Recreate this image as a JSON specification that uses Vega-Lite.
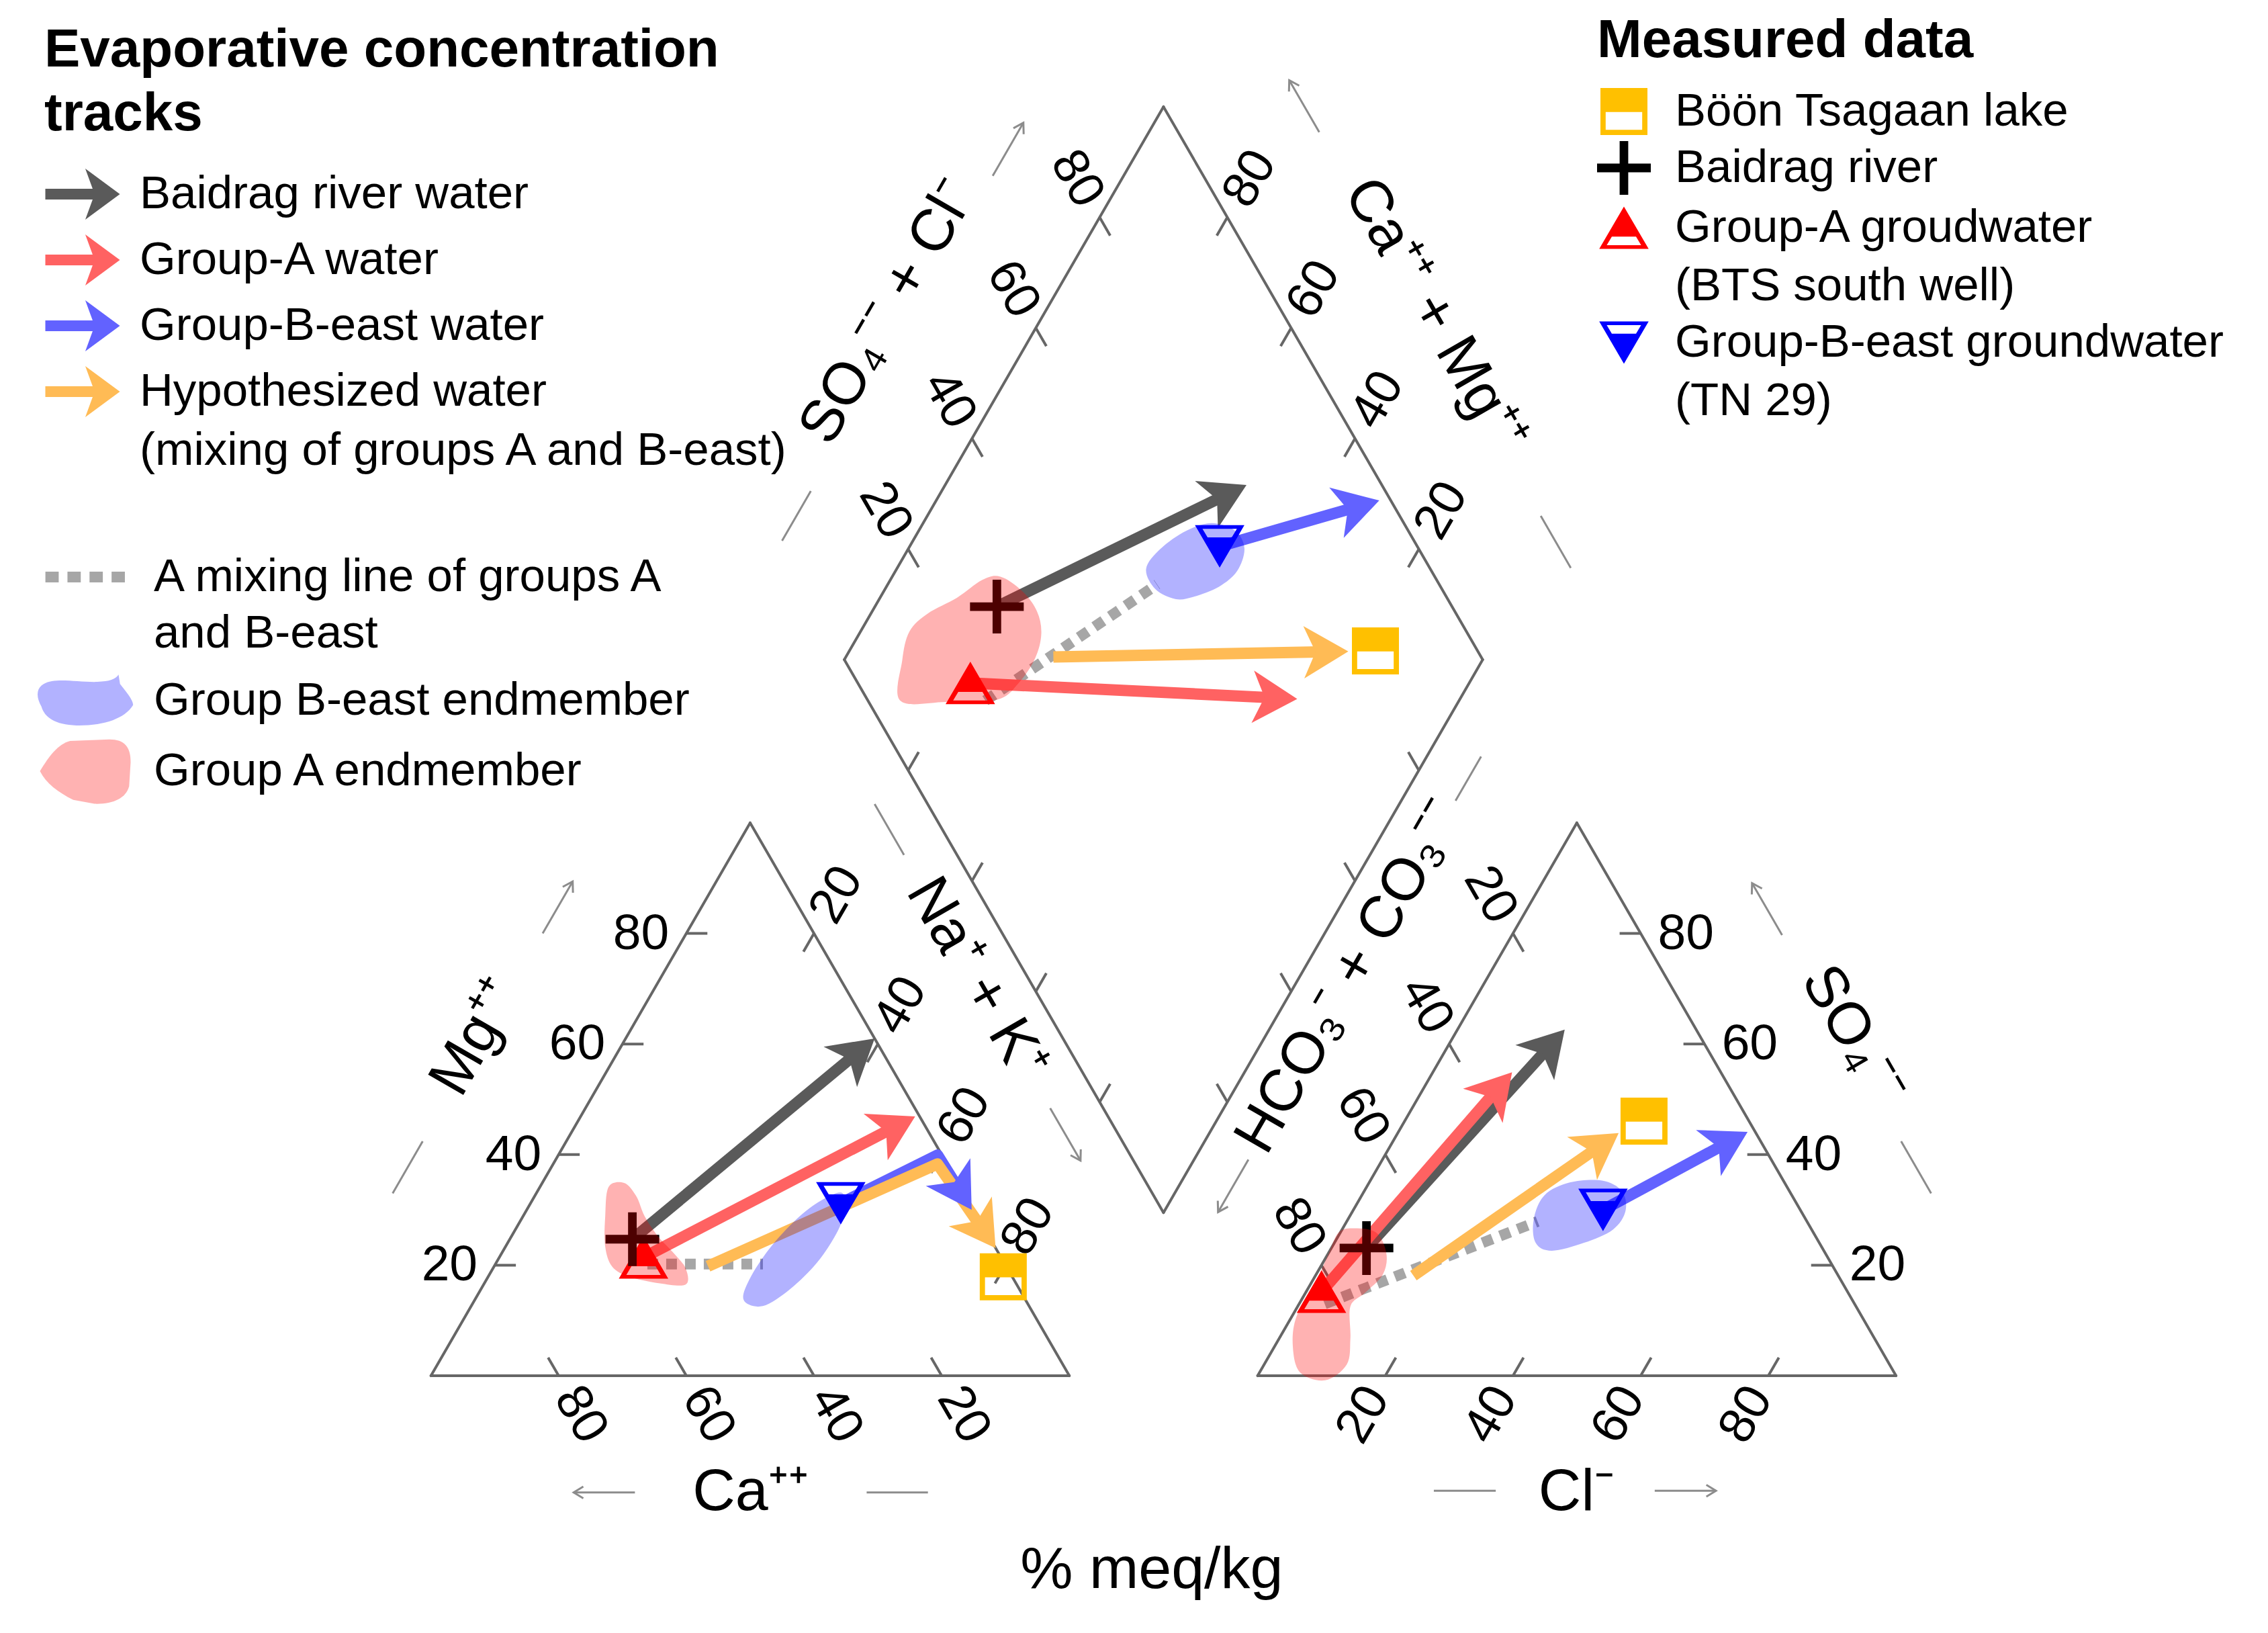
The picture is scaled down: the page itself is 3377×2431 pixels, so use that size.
{
"$schema": "https://vega.github.io/schema/vega-lite/v6.json",
"width": 3377, "height": 2431,
"autosize": {"type": "none"}, "padding": 0, "background": "white",
"config": {"view": {"stroke": null}, "font": "Liberation Sans"},
"data": {"values": [
{"k":"fr","p":"cat","a":100,"b":0,"a2":0,"b2":0},
{"k":"fr","p":"cat","a":100,"b":0,"a2":0,"b2":100},
{"k":"fr","p":"cat","a":0,"b":0,"a2":0,"b2":100},
{"k":"fr","p":"an","a":0,"b":0,"a2":100,"b2":0},
{"k":"fr","p":"an","a":0,"b":0,"a2":0,"b2":100},
{"k":"fr","p":"an","a":100,"b":0,"a2":0,"b2":100},
{"k":"fr","p":"dia","a":0,"b":0,"a2":100,"b2":0},
{"k":"fr","p":"dia","a":100,"b":0,"a2":100,"b2":100},
{"k":"fr","p":"dia","a":100,"b":100,"a2":0,"b2":100},
{"k":"fr","p":"dia","a":0,"b":100,"a2":0,"b2":0},
{"k":"tk","p":"cat","a":80,"b":20,"a2":76.7,"b2":20},
{"k":"tk","p":"cat","a":60,"b":40,"a2":56.7,"b2":40},
{"k":"tk","p":"cat","a":40,"b":60,"a2":36.7,"b2":60},
{"k":"tk","p":"cat","a":20,"b":80,"a2":16.7,"b2":80},
{"k":"tk","p":"cat","a":20,"b":0,"a2":20,"b2":3.3},
{"k":"tk","p":"cat","a":40,"b":0,"a2":40,"b2":3.3},
{"k":"tk","p":"cat","a":60,"b":0,"a2":60,"b2":3.3},
{"k":"tk","p":"cat","a":80,"b":0,"a2":80,"b2":3.3},
{"k":"tk","p":"cat","a":0,"b":80,"a2":3.3,"b2":76.7},
{"k":"tk","p":"cat","a":0,"b":60,"a2":3.3,"b2":56.7},
{"k":"tk","p":"cat","a":0,"b":40,"a2":3.3,"b2":36.7},
{"k":"tk","p":"cat","a":0,"b":20,"a2":3.3,"b2":16.7},
{"k":"tk","p":"an","a":20,"b":0,"a2":20,"b2":3.3},
{"k":"tk","p":"an","a":40,"b":0,"a2":40,"b2":3.3},
{"k":"tk","p":"an","a":60,"b":0,"a2":60,"b2":3.3},
{"k":"tk","p":"an","a":80,"b":0,"a2":80,"b2":3.3},
{"k":"tk","p":"an","a":80,"b":20,"a2":76.7,"b2":20},
{"k":"tk","p":"an","a":60,"b":40,"a2":56.7,"b2":40},
{"k":"tk","p":"an","a":40,"b":60,"a2":36.7,"b2":60},
{"k":"tk","p":"an","a":20,"b":80,"a2":16.7,"b2":80},
{"k":"tk","p":"an","a":0,"b":80,"a2":3.3,"b2":76.7},
{"k":"tk","p":"an","a":0,"b":60,"a2":3.3,"b2":56.7},
{"k":"tk","p":"an","a":0,"b":40,"a2":3.3,"b2":36.7},
{"k":"tk","p":"an","a":0,"b":20,"a2":3.3,"b2":16.7},
{"k":"tk","p":"dia","a":100,"b":20,"a2":96.7,"b2":20},
{"k":"tk","p":"dia","a":100,"b":40,"a2":96.7,"b2":40},
{"k":"tk","p":"dia","a":100,"b":60,"a2":96.7,"b2":60},
{"k":"tk","p":"dia","a":100,"b":80,"a2":96.7,"b2":80},
{"k":"tk","p":"dia","a":20,"b":100,"a2":20,"b2":96.7},
{"k":"tk","p":"dia","a":40,"b":100,"a2":40,"b2":96.7},
{"k":"tk","p":"dia","a":60,"b":100,"a2":60,"b2":96.7},
{"k":"tk","p":"dia","a":80,"b":100,"a2":80,"b2":96.7},
{"k":"tk","p":"dia","a":20,"b":0,"a2":20,"b2":3.3},
{"k":"tk","p":"dia","a":40,"b":0,"a2":40,"b2":3.3},
{"k":"tk","p":"dia","a":60,"b":0,"a2":60,"b2":3.3},
{"k":"tk","p":"dia","a":80,"b":0,"a2":80,"b2":3.3},
{"k":"tk","p":"dia","a":0,"b":20,"a2":3.3,"b2":20},
{"k":"tk","p":"dia","a":0,"b":40,"a2":3.3,"b2":40},
{"k":"tk","p":"dia","a":0,"b":60,"a2":3.3,"b2":60},
{"k":"tk","p":"dia","a":0,"b":80,"a2":3.3,"b2":80},
{"k":"lr","p":"cat","a":82.7,"b":20,"t":"20"},
{"k":"lr","p":"cat","a":62.7,"b":40,"t":"40"},
{"k":"lr","p":"cat","a":42.7,"b":60,"t":"60"},
{"k":"lr","p":"cat","a":22.7,"b":80,"t":"80"},
{"k":"ll","p":"an","a":82.7,"b":20,"t":"20"},
{"k":"ll","p":"an","a":62.7,"b":40,"t":"40"},
{"k":"ll","p":"an","a":42.7,"b":60,"t":"60"},
{"k":"ll","p":"an","a":22.7,"b":80,"t":"80"},
{"k":"r60","p":"cat","a":20,"b":-7,"t":"20"},
{"k":"r60","p":"cat","a":40,"b":-7,"t":"40"},
{"k":"r60","p":"cat","a":60,"b":-7,"t":"60"},
{"k":"r60","p":"cat","a":80,"b":-7,"t":"80"},
{"k":"r60","p":"dia","a":107,"b":20,"t":"20"},
{"k":"r60","p":"dia","a":107,"b":40,"t":"40"},
{"k":"r60","p":"dia","a":107,"b":60,"t":"60"},
{"k":"r60","p":"dia","a":107,"b":80,"t":"80"},
{"k":"r60","p":"an","a":-7,"b":87,"t":"20"},
{"k":"r60","p":"an","a":-7,"b":67,"t":"40"},
{"k":"r60","p":"an","a":-7,"b":47,"t":"60"},
{"k":"r60","p":"an","a":-7,"b":27,"t":"80"},
{"k":"rm60","p":"cat","a":-7,"b":87,"t":"20"},
{"k":"rm60","p":"cat","a":-7,"b":67,"t":"40"},
{"k":"rm60","p":"cat","a":-7,"b":47,"t":"60"},
{"k":"rm60","p":"cat","a":-7,"b":27,"t":"80"},
{"k":"rm60","p":"dia","a":20,"b":107,"t":"20"},
{"k":"rm60","p":"dia","a":40,"b":107,"t":"40"},
{"k":"rm60","p":"dia","a":60,"b":107,"t":"60"},
{"k":"rm60","p":"dia","a":80,"b":107,"t":"80"},
{"k":"rm60","p":"an","a":20,"b":-7,"t":"20"},
{"k":"rm60","p":"an","a":40,"b":-7,"t":"40"},
{"k":"rm60","p":"an","a":60,"b":-7,"t":"60"},
{"k":"rm60","p":"an","a":80,"b":-7,"t":"80"},
{"k":"t0","p":"cat","a":60.5,"b":-21.1,"t":"Ca⁺⁺"},
{"k":"t0","p":"an","a":60.5,"b":-21.1,"t":"Cl⁻"},
{"k":"t0","p":"cat","a":4.7,"b":-35.2,"t":"% meq/kg"},
{"k":"t60","p":"cat","a":-21.3,"b":71.7,"t":"Na⁺ + K⁺"},
{"k":"t60","p":"dia","a":38.6,"b":123.6,"t":"Ca⁺⁺ + Mg⁺⁺"},
{"k":"t60","p":"an","a":62.5,"b":61.5,"t":"SO₄⁻⁻"},
{"k":"tm60","p":"cat","a":62.3,"b":61.2,"t":"Mg⁺⁺"},
{"k":"tm60","p":"dia","a":124.5,"b":38.4,"t":"SO₄⁻⁻ + Cl⁻"},
{"k":"tm60","p":"an","a":-21.6,"b":72.2,"t":"HCO₃⁻ + CO₃⁻⁻"},
{"k":"ind","p":"cat","a":89.5,"b":33,"a2":80.1,"b2":42.4},
{"k":"arr","p":"cat","a":42.5,"b":80,"a2":33.1,"b2":89.4},
{"k":"ind","p":"cat","a":42.3,"b":-21.1,"a2":32.7,"b2":-21.1},
{"k":"arr","p":"cat","a":78.6,"b":-21.1,"a2":88.2,"b2":-21.1},
{"k":"ind","p":"cat","a":-21.2,"b":103.4,"a2":-21.2,"b2":94.2},
{"k":"arr","p":"cat","a":-21.2,"b":48.4,"a2":-21.2,"b2":38.9},
{"k":"ind","p":"dia","a":120.5,"b":1,"a2":120.5,"b2":10},
{"k":"arr","p":"dia","a":120.5,"b":67,"a2":120.5,"b2":76.6},
{"k":"ind","p":"dia","a":-5.5,"b":122.1,"a2":3.9,"b2":122.1},
{"k":"arr","p":"dia","a":73.3,"b":122.1,"a2":82.7,"b2":122.1},
{"k":"ind","p":"an","a":-21,"b":104,"a2":-21,"b2":112},
{"k":"arr","p":"an","a":-21,"b":39.1,"a2":-21,"b2":29.6},
{"k":"ind","p":"an","a":38,"b":-20.8,"a2":47.7,"b2":-20.8},
{"k":"arr","p":"an","a":72.6,"b":-20.8,"a2":82.2,"b2":-20.8},
{"k":"ind","p":"an","a":79.6,"b":42.4,"a2":89,"b2":33},
{"k":"arr","p":"an","a":42.3,"b":79.7,"a2":32.9,"b2":89.1},
{"k":"mix","id":"cat","o":0,"p":"cat","a":56,"b":20.2},
{"k":"mix","id":"cat","o":1,"p":"cat","a":37.9,"b":20.2},
{"k":"mix","id":"dia","o":0,"p":"dia","a":74.2,"b":18.4},
{"k":"mix","id":"dia","o":1,"p":"dia","a":57.8,"b":55.8},
{"k":"mix","id":"an","o":0,"p":"an","a":4,"b":13},
{"k":"mix","id":"an","o":1,"p":"an","a":29.9,"b":27.9},
{"k":"trk","s":"Baidrag river water","id":"cat-g","o":0,"p":"cat","a":56.1,"b":24.7},
{"k":"trk","s":"Baidrag river water","id":"cat-g","o":1,"p":"cat","a":0,"b":61},
{"k":"trk","s":"Group-A water","id":"cat-r","o":0,"p":"cat","a":56,"b":21.4},
{"k":"trk","s":"Group-A water","id":"cat-r","o":1,"p":"cat","a":0.7,"b":46.9},
{"k":"trk","s":"Group-B-east water","id":"cat-b","o":0,"p":"cat","a":20.2,"b":31.2},
{"k":"trk","s":"Group-B-east water","id":"cat-b","o":1,"p":"cat","a":0.7,"b":39.9},
{"k":"trk","s":"Group-B-east water","id":"cat-b","o":2,"p":"cat","a":0.3,"b":30},
{"k":"trk","s":"Hypothesized water (mixing of groups A and B-east)","id":"cat-o","o":0,"p":"cat","a":46.7,"b":19.8},
{"k":"trk","s":"Hypothesized water (mixing of groups A and B-east)","id":"cat-o","o":1,"p":"cat","a":1.5,"b":38.3},
{"k":"trk","s":"Hypothesized water (mixing of groups A and B-east)","id":"cat-o","o":2,"p":"cat","a":0,"b":23.1},
{"k":"trk","s":"Baidrag river water","id":"dia-g","o":0,"p":"dia","a":80.9,"b":28.7},
{"k":"trk","s":"Baidrag river water","id":"dia-g","o":1,"p":"dia","a":52.8,"b":78.8},
{"k":"trk","s":"Group-A water","id":"dia-r","o":0,"p":"dia","a":78.15,"b":17.64},
{"k":"trk","s":"Group-A water","id":"dia-r","o":1,"p":"dia","a":25.5,"b":67.4},
{"k":"trk","s":"Group-B-east water","id":"dia-b","o":0,"p":"dia","a":51.45,"b":69.05},
{"k":"trk","s":"Group-B-east water","id":"dia-b","o":1,"p":"dia","a":30.6,"b":98.2},
{"k":"trk","s":"Hypothesized water (mixing of groups A and B-east)","id":"dia-o","o":0,"p":"dia","a":67.5,"b":33},
{"k":"trk","s":"Hypothesized water (mixing of groups A and B-east)","id":"dia-o","o":1,"p":"dia","a":21.8,"b":79.7},
{"k":"trk","s":"Baidrag river water","id":"an-g","o":0,"p":"an","a":5.5,"b":23.1},
{"k":"trk","s":"Baidrag river water","id":"an-g","o":1,"p":"an","a":16.8,"b":62.6},
{"k":"trk","s":"Group-A water","id":"an-r","o":0,"p":"an","a":2.4,"b":15.2},
{"k":"trk","s":"Group-A water","id":"an-r","o":1,"p":"an","a":12.4,"b":54.9},
{"k":"trk","s":"Group-B-east water","id":"an-b","o":0,"p":"an","a":39.1,"b":30},
{"k":"trk","s":"Group-B-east water","id":"an-b","o":1,"p":"an","a":54.7,"b":44.1},
{"k":"trk","s":"Hypothesized water (mixing of groups A and B-east)","id":"an-o","o":0,"p":"an","a":15.35,"b":18.1},
{"k":"trk","s":"Hypothesized water (mixing of groups A and B-east)","id":"an-o","o":1,"p":"an","a":34.6,"b":43.9},
{"k":"mk","s":"Böön Tsagaan lake","p":"cat","a":1.4,"b":17.9},
{"k":"mk","s":"Böön Tsagaan lake","p":"dia","a":17.6,"b":84},
{"k":"mk","s":"Böön Tsagaan lake","p":"an","a":37.5,"b":46.05},
{"k":"mk","s":"Group-B-east groundwater (TN 29)","p":"cat","a":20.2,"b":31.2},
{"k":"mk","s":"Group-B-east groundwater (TN 29)","p":"dia","a":51.45,"b":69.05},
{"k":"mk","s":"Group-B-east groundwater (TN 29)","p":"an","a":39.1,"b":30},
{"k":"mk","s":"Group-A groudwater (BTS south well)","p":"cat","a":56,"b":21.4},
{"k":"mk","s":"Group-A groudwater (BTS south well)","p":"dia","a":78.15,"b":17.64},
{"k":"mk","s":"Group-A groudwater (BTS south well)","p":"an","a":2.4,"b":15.2},
{"k":"mk","s":"Baidrag river","p":"cat","a":56.1,"b":24.7},
{"k":"mk","s":"Baidrag river","p":"dia","a":80.9,"b":28.7},
{"k":"mk","s":"Baidrag river","p":"an","a":5.5,"b":23.1},
{"k":"bl","s":"Group A endmember","id":"cat-A","o":0,"p":"cat","a":55.1,"b":34.15},
{"k":"bl","s":"Group A endmember","id":"cat-A","o":1,"p":"cat","a":52.3,"b":34.88},
{"k":"bl","s":"Group A endmember","id":"cat-A","o":2,"p":"cat","a":51.6,"b":32.5},
{"k":"bl","s":"Group A endmember","id":"cat-A","o":3,"p":"cat","a":52.1,"b":28.81},
{"k":"bl","s":"Group A endmember","id":"cat-A","o":4,"p":"cat","a":51.8,"b":25.12},
{"k":"bl","s":"Group A endmember","id":"cat-A","o":5,"p":"cat","a":50.9,"b":22.24},
{"k":"bl","s":"Group A endmember","id":"cat-A","o":6,"p":"cat","a":50.4,"b":19.38},
{"k":"bl","s":"Group A endmember","id":"cat-A","o":7,"p":"cat","a":51.85,"b":16.5},
{"k":"bl","s":"Group A endmember","id":"cat-A","o":8,"p":"cat","a":55.8,"b":16.71},
{"k":"bl","s":"Group A endmember","id":"cat-A","o":9,"p":"cat","a":60,"b":17.93},
{"k":"bl","s":"Group A endmember","id":"cat-A","o":10,"p":"cat","a":61.75,"b":19.78},
{"k":"bl","s":"Group A endmember","id":"cat-A","o":11,"p":"cat","a":60.98,"b":23.48},
{"k":"bl","s":"Group A endmember","id":"cat-A","o":12,"p":"cat","a":58.3,"b":28.81},
{"k":"bl","s":"Group B-east endmember","id":"cat-B","o":0,"p":"cat","a":44.17,"b":13.63},
{"k":"bl","s":"Group B-east endmember","id":"cat-B","o":1,"p":"cat","a":41.5,"b":17.32},
{"k":"bl","s":"Group B-east endmember","id":"cat-B","o":2,"p":"cat","a":35.4,"b":23.06},
{"k":"bl","s":"Group B-east endmember","id":"cat-B","o":3,"p":"cat","a":28.46,"b":28.4},
{"k":"bl","s":"Group B-east endmember","id":"cat-B","o":4,"p":"cat","a":23.06,"b":31.69},
{"k":"bl","s":"Group B-east endmember","id":"cat-B","o":5,"p":"cat","a":19.12,"b":33.12},
{"k":"bl","s":"Group B-east endmember","id":"cat-B","o":6,"p":"cat","a":19.92,"b":30.45},
{"k":"bl","s":"Group B-east endmember","id":"cat-B","o":7,"p":"cat","a":23.03,"b":26.35},
{"k":"bl","s":"Group B-east endmember","id":"cat-B","o":8,"p":"cat","a":29.13,"b":20.6},
{"k":"bl","s":"Group B-east endmember","id":"cat-B","o":9,"p":"cat","a":35.89,"b":15.68},
{"k":"bl","s":"Group B-east endmember","id":"cat-B","o":10,"p":"cat","a":41.72,"b":12.6},
{"k":"bl","s":"Group A endmember","id":"dia-A","o":0,"p":"dia","a":87.49,"b":5.07},
{"k":"bl","s":"Group A endmember","id":"dia-A","o":1,"p":"dia","a":90.85,"b":8.99},
{"k":"bl","s":"Group A endmember","id":"dia-A","o":2,"p":"dia","a":92.34,"b":12.76},
{"k":"bl","s":"Group A endmember","id":"dia-A","o":3,"p":"dia","a":91.11,"b":17.23},
{"k":"bl","s":"Group A endmember","id":"dia-A","o":4,"p":"dia","a":87.96,"b":23.22},
{"k":"bl","s":"Group A endmember","id":"dia-A","o":5,"p":"dia","a":85.59,"b":28.83},
{"k":"bl","s":"Group A endmember","id":"dia-A","o":6,"p":"dia","a":83.04,"b":31.98},
{"k":"bl","s":"Group A endmember","id":"dia-A","o":7,"p":"dia","a":78.3,"b":34.08},
{"k":"bl","s":"Group A endmember","id":"dia-A","o":8,"p":"dia","a":74.2,"b":34.55},
{"k":"bl","s":"Group A endmember","id":"dia-A","o":9,"p":"dia","a":71.49,"b":33.21},
{"k":"bl","s":"Group A endmember","id":"dia-A","o":10,"p":"dia","a":70.23,"b":30.01},
{"k":"bl","s":"Group A endmember","id":"dia-A","o":11,"p":"dia","a":70.58,"b":25.22},
{"k":"bl","s":"Group A endmember","id":"dia-A","o":12,"p":"dia","a":72.48,"b":20.28},
{"k":"bl","s":"Group A endmember","id":"dia-A","o":13,"p":"dia","a":80.25,"b":12.09},
{"k":"bl","s":"Group B-east endmember","id":"dia-B","o":0,"p":"dia","a":60.94,"b":55.5},
{"k":"bl","s":"Group B-east endmember","id":"dia-B","o":1,"p":"dia","a":60.48,"b":59.6},
{"k":"bl","s":"Group B-east endmember","id":"dia-B","o":2,"p":"dia","a":58.1,"b":65.2},
{"k":"bl","s":"Group B-east endmember","id":"dia-B","o":3,"p":"dia","a":54.8,"b":69.9},
{"k":"bl","s":"Group B-east endmember","id":"dia-B","o":4,"p":"dia","a":50.4,"b":72.9},
{"k":"bl","s":"Group B-east endmember","id":"dia-B","o":5,"p":"dia","a":47.36,"b":72.72},
{"k":"bl","s":"Group B-east endmember","id":"dia-B","o":6,"p":"dia","a":46.48,"b":69.56},
{"k":"bl","s":"Group B-east endmember","id":"dia-B","o":7,"p":"dia","a":47.91,"b":65.29},
{"k":"bl","s":"Group B-east endmember","id":"dia-B","o":8,"p":"dia","a":50.99,"b":60.39},
{"k":"bl","s":"Group B-east endmember","id":"dia-B","o":9,"p":"dia","a":53.65,"b":57.33},
{"k":"bl","s":"Group B-east endmember","id":"dia-B","o":10,"p":"dia","a":57.69,"b":55.1},
{"k":"bl","s":"Group A endmember","id":"an-A","o":0,"p":"an","a":1.19,"b":26.67},
{"k":"bl","s":"Group A endmember","id":"an-A","o":1,"p":"an","a":5.49,"b":25.96},
{"k":"bl","s":"Group A endmember","id":"an-A","o":2,"p":"an","a":9.09,"b":22.14},
{"k":"bl","s":"Group A endmember","id":"an-A","o":3,"p":"an","a":10.45,"b":18.3},
{"k":"bl","s":"Group A endmember","id":"an-A","o":4,"p":"an","a":9.3,"b":14.97},
{"k":"bl","s":"Group A endmember","id":"an-A","o":5,"p":"an","a":8.25,"b":12.56},
{"k":"bl","s":"Group A endmember","id":"an-A","o":6,"p":"an","a":11.12,"b":6.82},
{"k":"bl","s":"Group A endmember","id":"an-A","o":7,"p":"an","a":12.94,"b":2.04},
{"k":"bl","s":"Group A endmember","id":"an-A","o":8,"p":"an","a":10.99,"b":-0.82},
{"k":"bl","s":"Group A endmember","id":"an-A","o":9,"p":"an","a":6.33,"b":0.61},
{"k":"bl","s":"Group A endmember","id":"an-A","o":10,"p":"an","a":2.81,"b":5.39},
{"k":"bl","s":"Group A endmember","id":"an-A","o":11,"p":"an","a":0.74,"b":10.66},
{"k":"bl","s":"Group A endmember","id":"an-A","o":12,"p":"an","a":0.69,"b":16.4},
{"k":"bl","s":"Group A endmember","id":"an-A","o":13,"p":"an","a":0.07,"b":22.14},
{"k":"bl","s":"Group A endmember","id":"an-A","o":14,"p":"an","a":-0.31,"b":25.72},
{"k":"bl","s":"Group B-east endmember","id":"an-B","o":0,"p":"an","a":28.62,"b":32.66},
{"k":"bl","s":"Group B-east endmember","id":"an-B","o":1,"p":"an","a":31.42,"b":34.95},
{"k":"bl","s":"Group B-east endmember","id":"an-B","o":2,"p":"an","a":36.32,"b":35.29},
{"k":"bl","s":"Group B-east endmember","id":"an-B","o":3,"p":"an","a":40.38,"b":33.37},
{"k":"bl","s":"Group B-east endmember","id":"an-B","o":4,"p":"an","a":42.73,"b":29.79},
{"k":"bl","s":"Group B-east endmember","id":"an-B","o":5,"p":"an","a":42.44,"b":26.44},
{"k":"bl","s":"Group B-east endmember","id":"an-B","o":6,"p":"an","a":39.12,"b":24.05},
{"k":"bl","s":"Group B-east endmember","id":"an-B","o":7,"p":"an","a":34.77,"b":22.61},
{"k":"bl","s":"Group B-east endmember","id":"an-B","o":8,"p":"an","a":31.52,"b":24.05},
{"k":"bl","s":"Group B-east endmember","id":"an-B","o":9,"p":"an","a":29.08,"b":28.35}
]},
"transform": [
{"calculate": "datum.p === 'cat' ? 100 - datum.a - datum.b / 2 : (datum.p === 'an' ? 129.5 + datum.a + datum.b / 2 : 114.75 - datum.a / 2 + datum.b / 2)", "as": "x"},
{"calculate": "datum.p === 'dia' ? 25.55 + 0.866 * (datum.a + datum.b) : 0.866 * datum.b", "as": "y"},
{"calculate": "datum.p === 'cat' ? 100 - datum.a2 - datum.b2 / 2 : (datum.p === 'an' ? 129.5 + datum.a2 + datum.b2 / 2 : 114.75 - datum.a2 / 2 + datum.b2 / 2)", "as": "x2"},
{"calculate": "datum.p === 'dia' ? 25.55 + 0.866 * (datum.a2 + datum.b2) : 0.866 * datum.b2", "as": "y2"}
],
"resolve": {"scale": {"color": "independent", "shape": "independent"}},
"encoding": {
"x": {"field": "x", "type": "quantitative", "scale": {"domain": [-67.51, 287.77], "nice": false, "zero": false}, "axis": null},
"y": {"field": "y", "type": "quantitative", "scale": {"domain": [-40.29, 215.47], "nice": false, "zero": false}, "axis": null}
},
"layer": [
{"transform": [{"filter": "datum.k === 'fr'"}], "mark": {"type": "rule", "color": "#666666", "strokeWidth": 4, "strokeCap": "round"}, "encoding": {"x2": {"field": "x2"}, "y2": {"field": "y2"}}},
{"transform": [{"filter": "datum.k === 'tk'"}], "mark": {"type": "rule", "color": "#666666", "strokeWidth": 4}, "encoding": {"x2": {"field": "x2"}, "y2": {"field": "y2"}}},
{"transform": [{"filter": "datum.k === 'ind' || datum.k === 'arr'"}], "mark": {"type": "rule", "color": "#8c8c8c", "strokeWidth": 3}, "encoding": {"x2": {"field": "x2"}, "y2": {"field": "y2"}}},
{"transform": [{"filter": "datum.k === 'arr'"}, {"calculate": "atan2(datum.x2 - datum.x, datum.y2 - datum.y) * 180 / PI", "as": "ang"}],
 "mark": {"type": "point", "shape": "M-0.55,0.9L0,0L0.55,0.9", "filled": false, "stroke": "#8c8c8c", "strokeWidth": 3, "size": 1024, "opacity": 1},
 "encoding": {
  "x": {"field": "x2", "type": "quantitative", "scale": {"domain": [-67.51, 287.77], "nice": false, "zero": false}, "axis": null},
  "y": {"field": "y2", "type": "quantitative", "scale": {"domain": [-40.29, 215.47], "nice": false, "zero": false}, "axis": null},
  "angle": {"field": "ang", "type": "quantitative", "scale": null}}},
{"transform": [{"filter": "datum.k === 'lr'"}], "mark": {"type": "text", "font": "Liberation Sans", "fontSize": 75, "align": "right", "baseline": "middle", "color": "#000000"}, "encoding": {"text": {"field": "t"}}},
{"transform": [{"filter": "datum.k === 'll'"}], "mark": {"type": "text", "font": "Liberation Sans", "fontSize": 75, "align": "left", "baseline": "middle", "color": "#000000"}, "encoding": {"text": {"field": "t"}}},
{"transform": [{"filter": "datum.k === 'r60'"}], "mark": {"type": "text", "font": "Liberation Sans", "fontSize": 75, "align": "center", "baseline": "middle", "angle": 60, "color": "#000000"}, "encoding": {"text": {"field": "t"}}},
{"transform": [{"filter": "datum.k === 'rm60'"}], "mark": {"type": "text", "font": "Liberation Sans", "fontSize": 75, "align": "center", "baseline": "middle", "angle": -60, "color": "#000000"}, "encoding": {"text": {"field": "t"}}},
{"transform": [{"filter": "datum.k === 't0'"}], "mark": {"type": "text", "font": "Liberation Sans", "fontSize": 88, "align": "center", "baseline": "middle", "color": "#000000"}, "encoding": {"text": {"field": "t"}}},
{"transform": [{"filter": "datum.k === 't60'"}], "mark": {"type": "text", "font": "Liberation Sans", "fontSize": 88, "align": "center", "baseline": "middle", "angle": 60, "color": "#000000"}, "encoding": {"text": {"field": "t"}}},
{"transform": [{"filter": "datum.k === 'tm60'"}], "mark": {"type": "text", "font": "Liberation Sans", "fontSize": 88, "align": "center", "baseline": "middle", "angle": -60, "color": "#000000"}, "encoding": {"text": {"field": "t"}}},
{"transform": [{"filter": "datum.k === 'mix'"}], "mark": {"type": "line", "stroke": "#a6a6a6", "strokeWidth": 16, "strokeDash": [16, 12]}, "encoding": {"detail": {"field": "id"}, "order": {"field": "o"}}},
{"transform": [{"filter": "datum.k === 'trk'"},
  {"window": [{"op": "lag", "field": "x", "as": "px"}, {"op": "lag", "field": "y", "as": "py"}, {"op": "row_number", "as": "rn"}, {"op": "count", "as": "n"}], "groupby": ["id"], "sort": [{"field": "o", "order": "ascending"}], "frame": [null, null]},
  {"calculate": "datum.x - datum.px", "as": "dx"},
  {"calculate": "datum.y - datum.py", "as": "dy"},
  {"calculate": "sqrt(datum.dx * datum.dx + datum.dy * datum.dy)", "as": "len"},
  {"calculate": "datum.rn === datum.n ? datum.x - 4.6 * datum.dx / datum.len : datum.x", "as": "xe"},
  {"calculate": "datum.rn === datum.n ? datum.y - 4.6 * datum.dy / datum.len : datum.y", "as": "ye"}],
 "mark": {"type": "line", "strokeWidth": 17, "strokeCap": "butt", "strokeJoin": "round"},
 "encoding": {
  "x": {"field": "xe", "type": "quantitative", "scale": {"domain": [-67.51, 287.77], "nice": false, "zero": false}, "axis": null},
  "y": {"field": "ye", "type": "quantitative", "scale": {"domain": [-40.29, 215.47], "nice": false, "zero": false}, "axis": null},
  "stroke": {"field": "s", "type": "nominal", "scale": {"domain": ["Hypothesized water (mixing of groups A and B-east)", "Group-B-east water", "Group-A water", "Baidrag river water"], "range": ["#ffbb55", "#6262ff", "#ff6262", "#5a5a5a"]}, "legend": null},
  "detail": {"field": "id"}, "order": {"field": "o"}}},
{"transform": [{"filter": "datum.k === 'trk'"},
  {"window": [{"op": "lag", "field": "x", "as": "px"}, {"op": "lag", "field": "y", "as": "py"}, {"op": "row_number", "as": "rn"}, {"op": "count", "as": "n"}], "groupby": ["id"], "sort": [{"field": "o", "order": "ascending"}], "frame": [null, null]},
  {"filter": "datum.rn === datum.n"},
  {"calculate": "atan2(datum.x - datum.px, datum.y - datum.py) * 180 / PI", "as": "ang"}],
 "mark": {"type": "point", "shape": "M0,0L1,1.7L0,1.25L-1,1.7Z", "filled": true, "size": 6084, "opacity": 1, "strokeWidth": 0},
 "encoding": {
  "angle": {"field": "ang", "type": "quantitative", "scale": null},
  "fill": {"field": "s", "type": "nominal", "scale": {"domain": ["Baidrag river water", "Group-A water", "Group-B-east water", "Hypothesized water (mixing of groups A and B-east)"], "range": ["#5a5a5a", "#ff6262", "#6262ff", "#ffbb55"]},
   "legend": {"title": ["Evaporative concentration", "tracks"], "orient": "none", "legendX": 66, "legendY": 36, "padding": 0,
    "titleFont": "Liberation Sans", "titleFontSize": 80, "titleFontWeight": "bold", "titleColor": "#000000", "titleLineHeight": 95, "titleLimit": 3000, "titlePadding": 38,
    "labelFont": "Liberation Sans", "labelFontSize": 69, "labelColor": "#000000", "labelLimit": 3000, "labelOffset": 45,
    "rowPadding": 19, "symbolType": "M-1.4,-0.2L0.377,-0.2L0.1,-0.96L1.4,0L0.1,0.96L0.377,0.2L-1.4,0.2Z", "symbolSize": 6288, "symbolOffset": 17, "symbolStrokeWidth": 0, "symbolOpacity": 1,
    "labelExpr": "indexof(datum.label, ' (') > 0 ? [slice(datum.label, 0, indexof(datum.label, ' (')), slice(datum.label, indexof(datum.label, ' (') + 1)] : datum.label",
    "encode": {"labels": {"update": {"lineHeight": {"value": 88}}}, "symbols": {"update": {"size": {"value": 6288}, "strokeWidth": {"value": 0}, "opacity": {"value": 1}}}}}}}},
{"transform": [{"filter": "datum.k === 'mk'"}],
 "mark": {"type": "point", "filled": true, "size": 6400, "opacity": 1, "strokeWidth": 0},
 "encoding": {
  "shape": {"field": "s", "type": "nominal", "scale": {"domain": ["Böön Tsagaan lake", "Baidrag river", "Group-A groudwater (BTS south well)", "Group-B-east groundwater (TN 29)"], "range": ["M-0.875,-0.875H0.875V0.875H-0.875Z M-0.68,0.02V0.68H0.68V0.02Z", "M-0.16,-1H0.16V-0.16H1V0.16H0.16V1H-0.16V0.16H-1V-0.16H-0.16Z", "M0,-0.79L0.92,0.79H-0.92Z M-0.45,0.33L-0.64,0.65H0.64L0.45,0.33Z", "M-0.92,-0.79H0.92L0,0.79Z M-0.64,-0.65L-0.45,-0.33H0.45L0.64,-0.65Z"]},
   "legend": {"title": "Measured data", "orient": "none", "legendX": 2378, "legendY": 22, "padding": 0,
    "titleFont": "Liberation Sans", "titleFontSize": 80, "titleFontWeight": "bold", "titleColor": "#000000", "titleLimit": 3000, "titlePadding": 24,
    "labelFont": "Liberation Sans", "labelFontSize": 69, "labelColor": "#000000", "labelLimit": 3000, "labelOffset": 36,
    "rowPadding": 9, "symbolSize": 6400, "symbolStrokeWidth": 0, "symbolOpacity": 1,
    "labelExpr": "indexof(datum.label, ' (') > 0 ? [slice(datum.label, 0, indexof(datum.label, ' (')), slice(datum.label, indexof(datum.label, ' (') + 1)] : datum.label",
    "encode": {"labels": {"update": {"lineHeight": {"value": 87}}}, "symbols": {"update": {"size": {"value": 6400}, "strokeWidth": {"value": 0}, "opacity": {"value": 1}}}}}},
  "color": {"field": "s", "type": "nominal", "scale": {"domain": ["Böön Tsagaan lake", "Baidrag river", "Group-A groudwater (BTS south well)", "Group-B-east groundwater (TN 29)"], "range": ["#ffc000", "#000000", "#ff0000", "#0000ff"]},
   "legend": {"title": "Measured data", "orient": "none", "legendX": 2378, "legendY": 22, "padding": 0,
    "titleFont": "Liberation Sans", "titleFontSize": 80, "titleFontWeight": "bold", "titleColor": "#000000", "titleLimit": 3000, "titlePadding": 24,
    "labelFont": "Liberation Sans", "labelFontSize": 69, "labelColor": "#000000", "labelLimit": 3000, "labelOffset": 36,
    "rowPadding": 9, "symbolSize": 6400, "symbolStrokeWidth": 0, "symbolOpacity": 1,
    "labelExpr": "indexof(datum.label, ' (') > 0 ? [slice(datum.label, 0, indexof(datum.label, ' (')), slice(datum.label, indexof(datum.label, ' (') + 1)] : datum.label",
    "encode": {"labels": {"update": {"lineHeight": {"value": 87}}}, "symbols": {"update": {"size": {"value": 6400}, "strokeWidth": {"value": 0}, "opacity": {"value": 1}}}}}}}},
{"transform": [{"filter": "datum.k === 'bl'"}],
 "mark": {"type": "line", "filled": true, "interpolate": "cardinal-closed", "strokeWidth": 0},
 "encoding": {
  "detail": {"field": "id"}, "order": {"field": "o"},
  "color": {"field": "s", "type": "nominal", "scale": {"domain": ["A mixing line of groups A and B-east", "Group B-east endmember", "Group A endmember"], "range": ["#a6a6a6", "rgba(0,0,255,0.3)", "rgba(255,0,0,0.3)"]},
   "legend": {"title": null, "orient": "none", "legendX": 82, "legendY": 814, "padding": 0,
    "labelFont": "Liberation Sans", "labelFontSize": 69, "labelColor": "#000000", "labelLimit": 3000, "labelOffset": 57,
    "rowPadding": 20, "symbolSize": 8100,
    "labelExpr": "datum.label === 'A mixing line of groups A and B-east' ? ['A mixing line of groups A', 'and B-east'] : datum.label",
    "encode": {"labels": {"update": {"lineHeight": {"value": 84}}},
     "symbols": {"update": {
      "shape": {"signal": "datum.value === 'A mixing line of groups A and B-east' ? 'M-1.32,-0.18H-0.88V0.18H-1.32Z M-0.59,-0.18H-0.15V0.18H-0.59Z M0.14,-0.18H0.58V0.18H0.14Z M0.87,-0.18H1.31V0.18H0.87Z' : (datum.value === 'Group B-east endmember' ? 'M-1.45,-0.5C-1.1,-0.8 -0.3,-0.6 0.4,-0.62C0.8,-0.64 1,-0.7 1.1,-0.86L1.15,-0.55C1.35,-0.3 1.6,0 1.58,0.15C1.3,0.6 0.6,0.84 -0.3,0.82C-1,0.8 -1.35,0.55 -1.45,0.2C-1.62,-0.1 -1.62,-0.35 -1.45,-0.5Z' : 'M-1.5,0C-1.2,-0.5 -0.9,-0.9 -0.5,-1L0.8,-1.05C1.3,-1.05 1.5,-0.8 1.5,-0.3L1.45,0.5C1.35,0.9 0.9,1.1 0.3,1.08L-0.4,0.95C-0.9,0.7 -1.3,0.4 -1.5,0Z')"},
      "fill": {"signal": "datum.value === 'A mixing line of groups A and B-east' ? '#a6a6a6' : (datum.value === 'Group B-east endmember' ? '#b3b3ff' : '#ffb3b3')"},
      "stroke": {"value": "transparent"}, "strokeWidth": {"value": 0}, "opacity": {"value": 1}, "size": {"value": 8100}}}}}}}}
]
}
